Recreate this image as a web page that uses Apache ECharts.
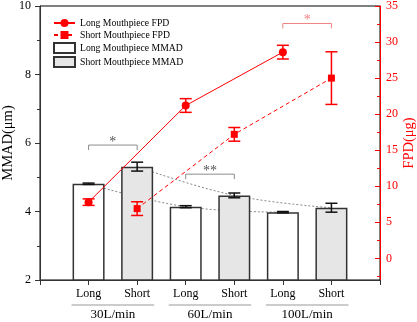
<!DOCTYPE html>
<html><head><meta charset="utf-8">
<script src="https://cdn.jsdelivr.net/npm/echarts@6/dist/echarts.min.js"></script>
<style>html,body{margin:0;padding:0;background:#fff}#c{width:417px;height:322px}</style>
</head><body><div id="c"></div>
<script>
// ---- data ----
const tickLabels = ['Long', 'Short', 'Long', 'Short', 'Long', 'Short'];
const groups = ['30L/min', '60L/min', '100L/min'];
const longMMAD = [4.81, 4.14, 3.98];
const longMMADErr = [0.02, 0.03, 0.02];
const shortMMAD = [5.31, 4.47, 4.11];
const shortMMADErr = [0.13, 0.07, 0.13];
const longFPD = [7.8, 21.2, 28.6];
const longFPDErr = [0.45, 0.95, 0.95];
const shortFPD = [6.9, 17.2, 25.0];
const shortFPDErr = [0.95, 0.95, 3.65];
const leftTicks = [2, 4, 6, 8, 10];
const rightTicks = [0, 5, 10, 15, 20, 25, 30, 35];
const rightMinorTicks = [-2.5, 2.5, 7.5, 12.5, 17.5, 22.5, 27.5, 32.5];
const sigLabels = ['*', '**', '*'];
const sigLevels = [5.94, 5.09, 9.49]; // bracket height (MMAD units)

// ---- styles ----
const RED = '#ff0000';
const sigColors = ['#8c8c8c', '#8c8c8c', '#f08080'];
const FONT = 'Liberation Serif';

const longX = g => 2 * g + 1, shortX = g => 2 * g + 2;

function errItem(color) {
  return function (params, api) {
    const x = api.value(0), v = api.value(1), e = api.value(2);
    const t = api.coord([x, v + e]), b = api.coord([x, v - e]);
    const hw = 6, st = { stroke: color, lineWidth: 1.5 };
    return { type: 'group', children: [
      { type: 'line', shape: { x1: t[0], y1: t[1], x2: b[0], y2: b[1] }, style: st },
      { type: 'line', shape: { x1: t[0] - hw, y1: t[1], x2: t[0] + hw, y2: t[1] }, style: st },
      { type: 'line', shape: { x1: b[0] - hw, y1: b[1], x2: b[0] + hw, y2: b[1] }, style: st }
    ]};
  };
}

const chart = echarts.init(document.getElementById('c'), null, { renderer: 'canvas' });
chart.setOption({
  animation: false,
  backgroundColor: '#fff',
  textStyle: { fontFamily: FONT },
  grid: { left: 40, right: 37, top: 6, bottom: 42, show: true, borderColor: '#000', borderWidth: 1,
    containLabel: false, outerBoundsMode: 'none' },
  legend: {
    orient: 'vertical', left: 53, top: 18, padding: 0, itemWidth: 21, itemHeight: 10, itemGap: 2,
    textStyle: { fontFamily: FONT, fontSize: 9.7, color: '#000' },
    data: [
      { name: 'Long Mouthpiece FPD' },
      { name: 'Short Mouthpiece FPD' },
      { name: 'Long Mouthpiece MMAD', icon: 'rect' },
      { name: 'Short Mouthpiece MMAD', icon: 'rect' }
    ]
  },
  xAxis: [{
    type: 'value', min: 0, max: 7, interval: 1,
    axisLine: { show: true, onZero: false, lineStyle: { color: '#333', width: 1 } },
    axisTick: { show: true, length: 5, lineStyle: { color: '#333' } },
    axisLabel: { customValues: tickLabels.map((_, i) => i + 1), formatter: v => tickLabels[Math.round(v) - 1],
      fontSize: 12, color: '#000', margin: 8, fontFamily: FONT },
    splitLine: { show: false }
  }, {
    type: 'value', min: 0, max: 7, position: 'bottom',
    axisLine: { show: false, onZero: false }, axisTick: { show: false },
    axisLabel: { customValues: groups.map((_, i) => 2 * i + 1.5), formatter: v => groups[Math.round((v - 1.5) / 2)],
      fontSize: 13, color: '#000', margin: 28, fontFamily: FONT },
    splitLine: { show: false }
  }],
  yAxis: [{
    type: 'value', min: leftTicks[0], max: leftTicks[leftTicks.length - 1], interval: 2, position: 'left',
    axisLine: { show: true, onZero: false, lineStyle: { color: '#333', width: 1 } },
    axisTick: { show: true, length: 5, lineStyle: { color: '#333' } },
    minorTick: { show: true, splitNumber: 2, length: 3, lineStyle: { color: '#333' } },
    axisLabel: { fontSize: 12, color: '#000', margin: 9, fontFamily: FONT },
    splitLine: { show: false },
    name: 'MMAD(μm)', nameLocation: 'middle', nameGap: 24, nameMoveOverlap: false,
    nameTextStyle: { fontSize: 14.5, color: '#000', fontFamily: FONT }
  }, {
    type: 'value', min: -3, max: 35, position: 'right',
    axisLine: { show: true, onZero: false, lineStyle: { color: RED, width: 1 } },
    axisTick: { show: true, inside: true, length: 5, customValues: rightTicks, lineStyle: { color: RED } },
    axisLabel: { customValues: rightTicks, fontSize: 12, color: RED, margin: 6, fontFamily: FONT },
    splitLine: { show: false },
    name: 'FPD(μg)', nameLocation: 'middle', nameGap: 22, nameRotate: 90, nameMoveOverlap: false,
    nameTextStyle: { fontSize: 14.5, color: RED, fontFamily: FONT }
  }, {
    type: 'value', min: -3, max: 35, position: 'right',
    axisLine: { show: false, onZero: false },
    axisTick: { show: true, inside: true, length: 3, customValues: rightMinorTicks, lineStyle: { color: RED } },
    axisLabel: { show: false, customValues: rightMinorTicks },
    splitLine: { show: false }
  }],
  series: [
    { name: 'longTrend', type: 'line', z: 1, silent: true, smooth: 0.4, symbol: 'none',
      data: longMMAD.map((v, g) => [longX(g), v]),
      lineStyle: { color: '#888', width: 1, type: [2, 2] } },
    { name: 'shortTrend', type: 'line', z: 1, silent: true, smooth: 0.4, symbol: 'none',
      data: shortMMAD.map((v, g) => [shortX(g), v]),
      lineStyle: { color: '#888', width: 1, type: [2, 2] } },
    { name: 'Long Mouthpiece MMAD', type: 'bar', z: 2, barWidth: 32, barGap: '-100%',
      data: longMMAD.map((v, g) => [longX(g), v]),
      itemStyle: { color: '#ffffff', borderColor: '#333', borderWidth: 1.5 } },
    { name: 'Short Mouthpiece MMAD', type: 'bar', z: 2, barWidth: 32, barGap: '-100%',
      data: shortMMAD.map((v, g) => [shortX(g), v]),
      itemStyle: { color: '#e6e6e6', borderColor: '#333', borderWidth: 1.5 } },
    { name: 'mmadErr', type: 'custom', z: 3, silent: true, renderItem: errItem('#111'),
      encode: { x: 0, y: 1 },
      data: longMMAD.map((v, g) => [longX(g), v, longMMADErr[g]])
        .concat(shortMMAD.map((v, g) => [shortX(g), v, shortMMADErr[g]])) },
    { name: 'Long Mouthpiece FPD', type: 'line', yAxisIndex: 1, z: 5,
      symbol: 'circle', symbolSize: 8,
      data: longFPD.map((v, g) => [longX(g), v]),
      itemStyle: { color: RED }, lineStyle: { color: RED, width: 1 } },
    { name: 'Short Mouthpiece FPD', type: 'line', yAxisIndex: 1, z: 5,
      symbol: 'rect', symbolSize: 7,
      data: shortFPD.map((v, g) => [shortX(g), v]),
      itemStyle: { color: RED }, lineStyle: { color: RED, width: 1, type: [4, 3] } },
    { name: 'fpdErr', type: 'custom', yAxisIndex: 1, z: 4, silent: true, renderItem: errItem(RED),
      encode: { x: 0, y: 1 },
      data: longFPD.map((v, g) => [longX(g), v, longFPDErr[g]])
        .concat(shortFPD.map((v, g) => [shortX(g), v, shortFPDErr[g]])) },
    { name: 'sig', type: 'custom', z: 6, silent: true,
      encode: { x: 0, y: 2 },
      data: sigLevels.map((lv, g) => [longX(g), shortX(g), lv]),
      renderItem: function (params, api) {
        const i = params.dataIndex;
        const a = api.coord([api.value(0), api.value(2)]);
        const b = api.coord([api.value(1), api.value(2)]);
        const col = sigColors[i];
        return { type: 'group', children: [
          { type: 'polyline', shape: { points: [[a[0], a[1] + 5], [a[0], a[1]], [b[0], b[1]], [b[0], b[1] + 5]] },
            style: { stroke: col, fill: null, lineWidth: 1 } },
          { type: 'text', x: (a[0] + b[0]) / 2, y: a[1] - 3,
            style: { text: sigLabels[i], fill: i === 2 ? col : '#555', font: '14px "Liberation Serif"', align: 'center', verticalAlign: 'middle' } }
        ]};
      } },
    { name: 'groupSep', type: 'custom', z: 6, silent: true, clip: false,
      encode: { x: 0, y: 1 },
      data: groups.map((_, g) => [2 * g + 1.5, leftTicks[0]]),
      renderItem: function (params, api) {
        const c = api.value(0);
        const p1 = api.coord([c - 0.85, api.value(1)]);
        const p2 = api.coord([c + 0.85, api.value(1)]);
        return { type: 'line', shape: { x1: p1[0], y1: p1[1] + 25, x2: p2[0], y2: p2[1] + 25 },
          style: { stroke: '#999', lineWidth: 1 } };
      } }
  ]
});
</script>
</body></html>
